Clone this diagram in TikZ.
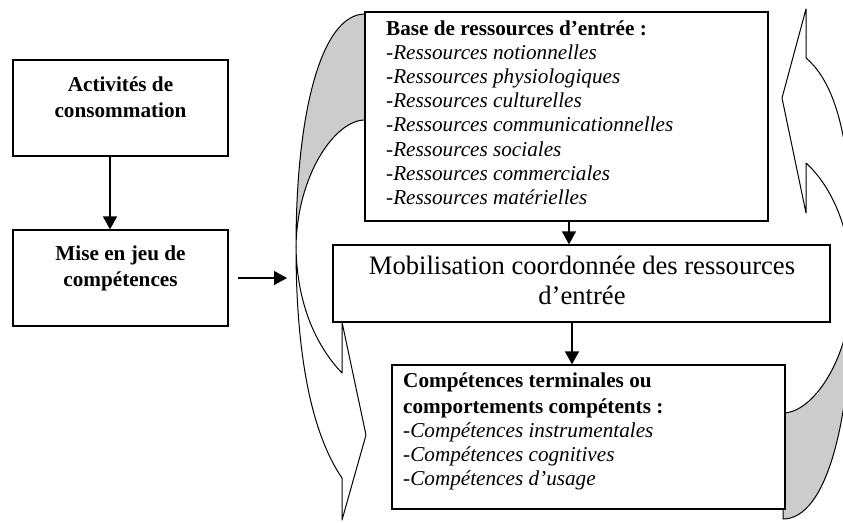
\documentclass[tikz,border=0pt]{standalone}
\usepackage{fontspec}
\setmainfont{Liberation Serif}
\usetikzlibrary{arrows.meta,positioning,calc}

\begin{document}
\begin{tikzpicture}[x=1pt,y=-1pt,>={Triangle[length=13pt,width=14pt]},
    box/.style={draw, line width=1.3pt, fill=white, inner sep=0pt},
    flow/.style={->, line width=1.3pt},
    curvearrow/.style={draw, line width=1pt, line join=round},
    bodytxt/.style={inner sep=0pt, font=\fontsize{21.2pt}{24.2pt}\selectfont}]
    \useasboundingbox (0,0) rectangle (843,522);
    \clip (0,0) rectangle (843,522);

    % Left curved arrow
    \filldraw[curvearrow, fill=gray!40] (365,14) .. controls (322,14) and (296,110) .. (296,247)
        .. controls (297,175) and (335,120) .. (365,120) -- cycle;
    \filldraw[curvearrow, fill=white] (296,247) .. controls (296,370) and (316,440) .. (342,478)
        -- (342,520) -- (366,435) -- (342,322) -- (342,373)
        .. controls (320,350) and (297,310) .. (296,247) -- cycle;

    % Right curved arrow
    \filldraw[curvearrow, fill=gray!40] (783,519) .. controls (826,519) and (852,423) .. (852,286)
        .. controls (851,358) and (813,413) .. (783,413) -- cycle;
    \filldraw[curvearrow, fill=white] (852,286) .. controls (855,150) and (838,85) .. (806,58)
        -- (806,9) -- (782,98) -- (806,213) -- (806,163)
        .. controls (828,183) and (851,223) .. (852,286) -- cycle;

    % Boxes
    \node[box, minimum width=215pt, minimum height=96pt] (act) at (120.5,108) {};
    \node[box, minimum width=215pt, minimum height=96pt] (mise) at (120.5,278) {};
    \node[box, minimum width=403pt, minimum height=209pt] (base) at (566.5,116.5) {};
    \node[box, minimum width=497pt, minimum height=77pt] (mob) at (581.5,283.5) {};
    \node[box, minimum width=393pt, minimum height=144pt] (comp) at (588.5,437) {};

    % Texts (base anchor sits on the last line)
    \node[bodytxt, font=\fontsize{21.2pt}{25.5pt}\selectfont\bfseries, align=center, anchor=base]
        (acttxt) at (120.5,117) {Activités de\\consommation};
    \node[bodytxt, font=\fontsize{21.2pt}{25.5pt}\selectfont\bfseries, align=center, anchor=base]
        (misetxt) at (120.5,286) {Mise en jeu de\\compétences};
    \node[bodytxt, align=left, anchor=base west] (basetxt) at (386,204.4)
        {\textbf{Base de ressources d’entrée :}\\
         \textit{-Ressources notionnelles}\\
         \textit{-Ressources physiologiques}\\
         \textit{-Ressources culturelles}\\
         \textit{-Ressources communicationnelles}\\
         \textit{-Ressources sociales}\\
         \textit{-Ressources commerciales}\\
         \textit{-Ressources matérielles}};
    \node[bodytxt, font=\fontsize{26.6pt}{30pt}\selectfont, align=center, anchor=base]
        (mobtxt) at (582,304) {Mobilisation coordonnée des ressources\\d’entrée};
    \node[bodytxt, font=\fontsize{21.2pt}{23.7pt}\selectfont, align=left, anchor=base west]
        (comptxt) at (403,485)
        {\textbf{Compétences terminales ou}\\[3pt]
         \textbf{comportements compétents :}\\
         \textit{-Compétences instrumentales}\\
         \textit{-Compétences cognitives}\\
         \textit{-Compétences d’usage}};

    % Arrows
    \coordinate (lbend) at (287,278);
    \draw[flow] ($(act.south)+(-10.5,0)$) -- ($(mise.north)+(-10.5,0)$);
    \draw[flow] ($(mise.east)+(9,0)$) -- (lbend);
    \draw[flow] ($(base.south)+(2.5,0)$) -- ($(base.south |- mob.north)+(2.5,0)$);
    \draw[flow] ($(mob.south)+(-9.5,0)$) -- ($(mob.south |- comp.north)+(-9.5,0)$);
\end{tikzpicture}
\end{document}
